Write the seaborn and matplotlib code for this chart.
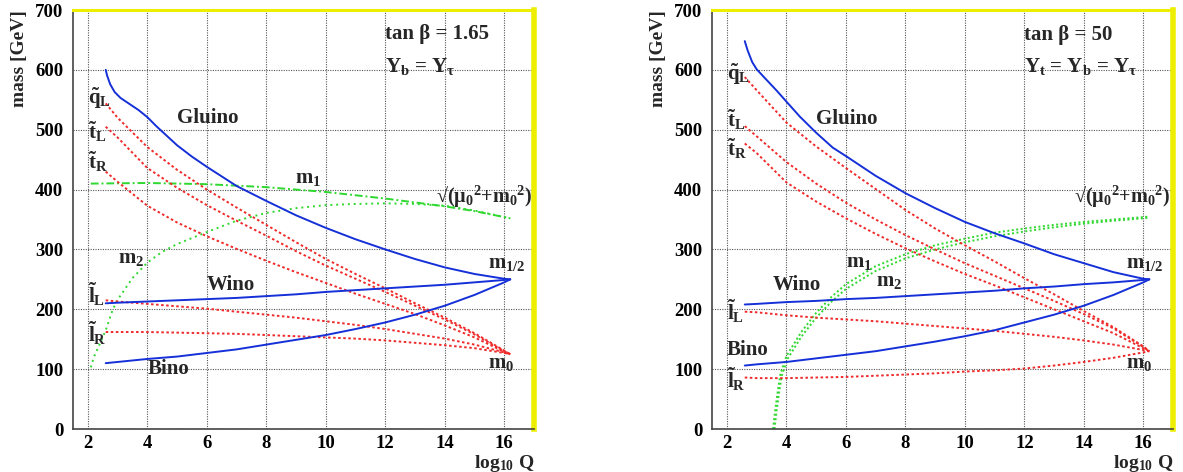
import numpy as np
import pandas as pd
import matplotlib
matplotlib.use('Agg')
import matplotlib.pyplot as plt
from matplotlib.ticker import MultipleLocator
import seaborn as sb


################################ DATA ################################

# log10 Q grid for the sfermion / gaugino curves
x_run = [2.6, 3, 4, 5, 6, 7, 8, 9, 10, 11, 12, 13, 14, 15, 16, 16.2]

# ---------- tan beta = 1.65 (left) ----------
L_qL = [544, 520, 471, 433, 400, 370, 341, 312, 284, 259, 235, 210, 186, 160, 131, 125]
L_tL = [505, 487, 436, 403, 374, 348, 323, 297, 273, 251, 229, 206, 183, 158, 130, 125]
L_tR = [430, 413, 373, 345, 322, 301, 281, 262, 244, 226, 209, 192, 173, 153, 129, 125]
L_lL = [215, 213, 209, 205, 201, 196, 191, 186, 180, 174, 167, 159, 151, 141, 128, 125]
L_lR = [162, 162, 162, 161, 160, 159, 157, 155, 153, 151, 148, 144, 140, 135, 127, 125]
L_wino = [210, 211, 213, 215, 217, 219, 222, 225, 229, 232, 235, 238, 241, 245, 249, 250]
L_bino = [110, 112, 117, 121, 127, 133, 141, 149, 157, 167, 178, 191, 206, 224, 245, 250]

x_gluL = [2.6, 2.65, 2.75, 2.9, 3.1, 3.4, 3.7, 4.0, 4.3, 4.65, 5, 5.5, 6, 7, 8, 9, 10, 11, 12, 13, 14, 15, 16, 16.2]
L_gluino = [600, 590, 576, 563, 553, 543, 533, 521, 506, 490, 474, 455, 438, 406, 381, 357, 336, 317, 300, 284, 270, 259, 251, 250]

x_m1L = [2.1, 4, 6, 8, 10, 12, 14, 15, 16, 16.2]
L_m1 = [410, 411, 409, 404, 396, 385, 372, 364, 354, 352]
x_m2L = [2.1, 2.2, 2.4, 2.6, 2.84, 3.0, 3.5, 4, 4.5, 5, 6, 7, 8, 9, 10, 11, 12, 13, 14, 15, 16, 16.2]
L_m2 = [103, 120, 142, 165, 200, 216, 252, 278, 296, 309, 329, 348, 361, 369, 374, 376, 377, 376, 373, 365, 354, 352]

# ---------- tan beta = 50 (right) ----------
R_qL = [588, 566, 512, 472, 436, 401, 366, 335, 307, 280, 252, 225, 197, 170, 138, 130]
R_tL = [506, 489, 446, 410, 378, 350, 324, 300, 277, 256, 235, 214, 192, 168, 137, 130]
R_tR = [477, 461, 412, 380, 352, 326, 302, 280, 259, 240, 220, 200, 180, 160, 135, 130]
R_lL = [196, 195, 190, 186, 183, 180, 176, 172, 168, 164, 159, 154, 148, 141, 132, 130]
R_lR = [86, 85, 85, 86, 87, 89, 91, 93, 96, 98, 101, 106, 112, 119, 128, 130]
R_wino = [208, 209, 212, 214, 217, 219, 222, 225, 228, 231, 235, 238, 242, 245, 249, 250]
R_bino = [106, 108, 112, 118, 124, 130, 138, 146, 155, 165, 178, 191, 206, 224, 245, 250]

x_gluR = [2.6, 2.7, 2.85, 3.0, 3.3, 3.66, 4, 4.45, 5, 5.56, 6, 7, 8, 9, 10, 11, 12, 13, 14, 15, 16, 16.2]
R_gluino = [648, 632, 613, 601, 585, 566, 547, 522, 495, 470, 456, 423, 394, 369, 346, 327, 310, 292, 277, 262, 251, 250]

x_m1R = [3.55, 3.62, 3.7, 3.8, 4, 4.5, 5, 5.5, 6, 7, 8, 9, 10, 11, 12, 13, 14, 15, 16, 16.2]
R_m1 = [0, 30, 60, 92, 122, 162, 194, 220, 242, 272, 292, 307, 318, 328, 335, 341, 346, 350, 354, 355]
x_m2R = [3.6, 3.67, 3.75, 3.85, 4.05, 4.5, 5, 5.5, 6, 7, 8, 9, 10, 11, 12, 13, 14, 15, 16, 16.2]
R_m2 = [0, 30, 60, 90, 118, 154, 186, 212, 234, 264, 285, 300, 312, 322, 330, 337, 343, 348, 352, 353]


################################ STYLE ################################

sb.set_style('white')
plt.rcParams['font.family'] = ['Liberation Serif', 'DejaVu Serif']
plt.rcParams['font.weight'] = 'bold'
plt.rcParams['mathtext.fontset'] = 'custom'
plt.rcParams['mathtext.rm'] = 'Liberation Serif:bold'
plt.rcParams['mathtext.it'] = 'Liberation Serif:bold'
plt.rcParams['mathtext.bf'] = 'Liberation Serif:bold'
plt.rcParams['mathtext.default'] = 'rm'

BLUE = '#1530d8'
RED = '#f02a2a'
GREEN = '#2ed82e'
DOT = (0, (1.3, 1.3))
FS = 15


def curva(ax, x, y, cor, estilo='-', lw=1.4):
    sb.lineplot(x=x, y=y, ax=ax, color=cor, linestyle=estilo, linewidth=lw,
                sort=False, estimator=None)


def moldura(ax):
    ax.set_xlim(1.5, 17)
    ax.set_ylim(0, 700)
    ax.xaxis.set_major_locator(MultipleLocator(2))
    ax.xaxis.set_minor_locator(MultipleLocator(0.5))
    ax.yaxis.set_major_locator(MultipleLocator(100))
    ax.yaxis.set_minor_locator(MultipleLocator(20))
    ax.set_axisbelow(True)
    ax.grid(True, which='major', color='#555555', linestyle=(0, (1, 1.2)), linewidth=0.8)
    ax.tick_params(which='both', direction='in', colors='#444444', labelcolor='black',
                   labelsize=13.5, top=False, right=False)
    ax.tick_params(which='major', length=5, width=1)
    ax.tick_params(axis='y', which='major', pad=7)
    ax.tick_params(axis='x', which='major', pad=4)
    ax.tick_params(which='minor', length=3, width=0.8)
    for s in ['left', 'bottom']:
        ax.spines[s].set_color('#444444')
        ax.spines[s].set_linewidth(1.2)
    ax.spines['top'].set_color('#eeee00')
    ax.spines['top'].set_linewidth(2.2)
    ax.spines['right'].set_color('#eeee00')
    ax.spines['right'].set_linewidth(4)
    ax.set_ylabel('mass [GeV]', fontsize=14, fontweight='bold', loc='top')
    ax.yaxis.set_label_coords(-0.098, 1.0)
    ax.set_xlabel('log$_{10}$ Q', fontsize=14, fontweight='bold', loc='right')
    ax.xaxis.set_label_coords(1.0, -0.058)
    ax.xaxis.label.set_va('top')


fig = plt.figure(figsize=(11.83, 4.72), dpi=100)
axL = fig.add_axes([0.0617, 0.0911, 0.3897, 0.8877])
axR = fig.add_axes([0.6019, 0.0911, 0.3897, 0.8877])


########################## PAINEL ESQUERDO ##########################
moldura(axL)
curva(axL, x_m1L, L_m1, GREEN, (0, (4, 1.5, 1, 1.5)))
curva(axL, x_m2L, L_m2, GREEN, (0, (1, 2)))
for serie in [L_qL, L_tL, L_tR, L_lL, L_lR]:
    curva(axL, x_run, serie, RED, DOT)
curva(axL, x_gluL, L_gluino, BLUE)
curva(axL, x_run, L_wino, BLUE)
curva(axL, x_run, L_bino, BLUE)

axL.text(5.0, 520, 'Gluino', fontsize=FS, va='center')
axL.text(6.0, 240, 'Wino', fontsize=FS, va='center')
axL.text(4.0, 100, 'Bino', fontsize=FS, va='center')
axL.text(8.95, 420, '$m_1$', fontsize=FS, va='center')
axL.text(3.0, 285, '$m_2$', fontsize=FS, va='center')
axL.text(15.45, 278, '$m_{1/2}$', fontsize=FS, va='center')
axL.text(15.45, 110, '$m_0$', fontsize=FS, va='center')
axL.text(13.7, 388, '√($\\mu_0$$^2$+$m_0$$^2$)', fontsize=14.5, va='center')
axL.text(12.0, 660, 'tan β = 1.65', fontsize=FS, va='center')
axL.text(12.0, 605, 'Y$_b$ = Y$_\\tau$', fontsize=FS, va='center')
axL.text(2.0, 552, '$\\tilde{q}_L$', fontsize=FS, va='center')
axL.text(2.0, 496, '$\\tilde{t}_L$', fontsize=FS, va='center')
axL.text(2.0, 446, '$\\tilde{t}_R$', fontsize=FS, va='center')
axL.text(2.0, 226, '$\\tilde{l}_L$', fontsize=FS, va='center')
axL.text(2.0, 160, '$\\tilde{l}_R$', fontsize=FS, va='center')


########################## PAINEL DIREITO ###########################
moldura(axR)
curva(axR, x_m1R, R_m1, GREEN, (0, (1, 1.3)))
curva(axR, x_m2R, R_m2, GREEN, (0, (1, 1.3)))
for serie in [R_qL, R_tL, R_tR, R_lL, R_lR]:
    curva(axR, x_run, serie, RED, DOT)
curva(axR, x_gluR, R_gluino, BLUE)
curva(axR, x_run, R_wino, BLUE)
curva(axR, x_run, R_bino, BLUE)

axR.text(5.0, 518, 'Gluino', fontsize=FS, va='center')
axR.text(3.55, 240, 'Wino', fontsize=FS, va='center')
axR.text(2.0, 132, 'Bino', fontsize=FS, va='center')
axR.text(6.0, 279, '$m_1$', fontsize=FS, va='center')
axR.text(7.0, 247, '$m_2$', fontsize=FS, va='center')
axR.text(15.43, 278, '$m_{1/2}$', fontsize=FS, va='center')
axR.text(15.43, 110, '$m_0$', fontsize=FS, va='center')
axR.text(13.66, 388, '√($\\mu_0$$^2$+$m_0$$^2$)', fontsize=14.5, va='center')
axR.text(12.0, 658, 'tan β = 50', fontsize=FS, va='center')
axR.text(12.0, 605, 'Y$_t$ = Y$_b$ = Y$_\\tau$', fontsize=FS, va='center')
axR.text(2.0, 592, '$\\tilde{q}_L$', fontsize=FS, va='center')
axR.text(2.0, 516, '$\\tilde{t}_L$', fontsize=FS, va='center')
axR.text(2.0, 468, '$\\tilde{t}_R$', fontsize=FS, va='center')
axR.text(2.0, 196, '$\\tilde{l}_L$', fontsize=FS, va='center')
axR.text(2.0, 83, '$\\tilde{l}_R$', fontsize=FS, va='center')

plt.savefig('out.png', dpi=100)
